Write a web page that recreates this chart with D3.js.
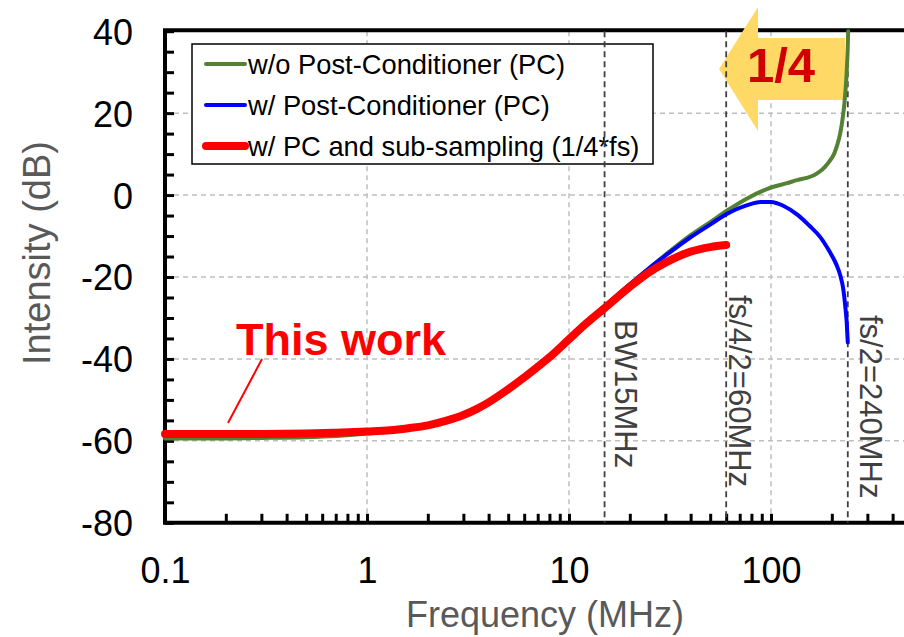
<!DOCTYPE html>
<html><head><meta charset="utf-8">
<script src="https://cdn.jsdelivr.net/npm/d3@7"></script>
<style>
html,body{margin:0;padding:0;background:#fff;}
svg{display:block;font-family:"Liberation Sans",Arial,sans-serif;}
</style></head>
<body>
<svg id="chart" width="904" height="637"></svg>
<script>
// ---- data ----
const freqGreen = [0.1,0.2,0.3,0.5,0.7,1,1.3,1.6,2,2.5,3,3.5,4,5,6,7,8,10,12,15,20,25,30,40,50,61,75,96,120,136,150,164,175,185,195,205,213,220,226,231,235,238,240,241];
const valGreen  = [-59.4,-59.4,-59.3,-59.1,-58.8,-58.2,-57.7,-57.1,-56.3,-55.0,-53.7,-52.2,-50.6,-47.4,-44.5,-41.9,-39.6,-35.2,-31.5,-27.2,-21.8,-17.8,-14.6,-9.8,-6.6,-3.7,-1.0,1.5,2.9,3.7,4.2,4.9,5.8,6.9,8.3,10.0,12.3,15.0,18.5,22.5,27.0,32.0,36.5,40.0];
const freqBlue  = [0.1,0.2,0.3,0.5,0.7,1,1.3,1.6,2,2.5,3,3.5,4,5,6,7,8,10,12,15,20,25,30,40,50,61,75,89,100,115,136,155,175,195,210,220,228,233,237,240];
const valBlue   = [-58.3,-58.3,-58.3,-58.2,-58.0,-57.7,-57.4,-56.9,-56.2,-55.0,-53.7,-52.2,-50.6,-47.4,-44.5,-41.9,-39.6,-35.2,-31.5,-27.2,-21.8,-17.8,-14.8,-10.3,-7.2,-4.5,-2.6,-1.7,-1.7,-2.6,-4.9,-7.5,-10.2,-13.8,-16.8,-19.5,-23.0,-27.0,-31.0,-36.0];
const freqRed   = [0.1,0.2,0.3,0.5,0.7,1,1.3,1.6,2,2.5,3,3.5,4,5,6,7,8,10,12,15,20,25,30,40,50,60];
const valRed    = [-58.3,-58.3,-58.3,-58.2,-58.0,-57.7,-57.4,-56.9,-56.2,-55.0,-53.7,-52.2,-50.6,-47.4,-44.5,-41.9,-39.6,-35.2,-31.6,-27.6,-22.4,-18.8,-16.5,-13.8,-12.7,-12.2];

const seriesNames = ["w/o Post-Conditioner (PC)","w/ Post-Conditioner (PC)","w/ PC and sub-sampling (1/4*fs)"];
const xTickValues = [0.1,1,10,100];
const xTickLabels = ["0.1","1","10","100"];
const yTickValues = [40,20,0,-20,-40,-60,-80];
const yTickLabels = ["40","20","0","-20","-40","-60","-80"];
const markerFreqs = [15,60,240];
const markerLabels = ["BW15MHz","fs/4/2=60MHz","fs/2=240MHz"];
const thisWorkLabel = "This work";
const arrowLabel = "1/4";

// ---- layout ----
const svg = d3.select("#chart");
const x = d3.scaleLog().domain([0.1,1000]).range([165,973]);
const y = d3.scaleLinear().domain([-80,40]).range([522.8,31.2]);
const pL = 165, pR = 904, pT = y(40), pB = y(-80);

const colors = ["#548235","#0000FF","#FF0000"];
const widths = [4,4,8];

// grid
const g = svg.append("g");
g.selectAll("line.gx").data([1,10,100]).join("line")
  .attr("x1",d=>x(d)).attr("x2",d=>x(d)).attr("y1",pT).attr("y2",pB)
  .attr("stroke","#BFBFBF").attr("stroke-width",1.5).attr("stroke-dasharray","5,4");
g.selectAll("line.gy").data([20,0,-20,-40,-60]).join("line")
  .attr("x1",pL).attr("x2",pR).attr("y1",d=>y(d)).attr("y2",d=>y(d))
  .attr("stroke","#BFBFBF").attr("stroke-width",1.5).attr("stroke-dasharray","5,4");

// legend box
const lg = svg.append("g");
lg.append("rect").attr("x",192).attr("y",44).attr("width",461).attr("height",120)
  .attr("fill","#fff").attr("stroke","#000").attr("stroke-width",1.5);
seriesNames.forEach((n,i)=>{
  const yy = 64 + i*41;
  lg.append("line").attr("x1",206).attr("x2",245).attr("y1",yy).attr("y2",yy)
    .attr("stroke",colors[i]).attr("stroke-width",widths[i]).attr("stroke-linecap","round");
  lg.append("text").attr("x",248).attr("y",yy+10).attr("font-size",27.3).attr("fill","#000").text(n);
});

// axes frame + ticks
const yMinor = d3.range(-80,41,5);
const yAx = svg.append("g").attr("transform",`translate(${pL},0)`)
  .call(d3.axisRight(y).tickValues(yMinor).tickSize(9).tickFormat(""));
const xMinor = [];
[0.1,1,10,100].forEach(dec=>{for(let k=1;k<10;k++){const v=dec*k; if(v>0.1) xMinor.push(v);}});
const xAx = svg.append("g").attr("transform",`translate(0,${pB})`)
  .call(d3.axisTop(x).tickValues(xMinor).tickSize(9).tickFormat(""));
[yAx,xAx].forEach(a=>{a.select(".domain").remove(); a.selectAll("line").attr("stroke","#000").attr("stroke-width",3);});
svg.append("line").attr("x1",pL).attr("x2",pR).attr("y1",pB).attr("y2",pB).attr("stroke","#000").attr("stroke-width",4);
svg.append("line").attr("x1",pL).attr("x2",pL).attr("y1",pT-2).attr("y2",pB+2).attr("stroke","#000").attr("stroke-width",4);
svg.append("line").attr("x1",pL-2).attr("x2",pR).attr("y1",pT-1).attr("y2",pT-1).attr("stroke","#000").attr("stroke-width",4);

// tick labels
const yl = svg.append("g").attr("transform",`translate(${pL},0)`)
  .call(d3.axisLeft(y).tickValues(yTickValues).tickSize(0).tickPadding(32).tickFormat((d,i)=>yTickLabels[i]));
yl.select(".domain").remove();
yl.selectAll("text").attr("font-size",36).attr("fill","#000").attr("font-family","Liberation Sans, Arial, sans-serif").attr("dy","0.36em");
const xl = svg.append("g").attr("transform",`translate(0,${pB})`)
  .call(d3.axisBottom(x).tickValues(xTickValues).tickSize(0).tickPadding(35).tickFormat((d,i)=>xTickLabels[i]));
xl.select(".domain").remove();
xl.selectAll("text").attr("font-size",36).attr("fill","#000").attr("font-family","Liberation Sans, Arial, sans-serif");

// axis titles
svg.append("text").attr("transform","translate(50,253) rotate(-90)").attr("text-anchor","middle")
  .attr("font-size",38).attr("fill","#595959").text("Intensity (dB)");
svg.append("text").attr("x",545).attr("y",627).attr("text-anchor","middle")
  .attr("font-size",36).attr("fill","#595959").text("Frequency (MHz)");

// arrow
const ap = d3.path();
ap.moveTo(719,69); ap.lineTo(758,7); ap.lineTo(758,38); ap.lineTo(845,38);
ap.lineTo(845,100); ap.lineTo(758,100); ap.lineTo(758,131); ap.closePath();
svg.append("path").attr("d",ap.toString()).attr("fill","#FFD966");
svg.append("text").attr("x",781).attr("y",82).attr("text-anchor","middle")
  .attr("font-size",49).attr("font-weight","bold").attr("fill","#D00000").text(arrowLabel);

// marker dashed lines
svg.selectAll("line.mk").data(markerFreqs).join("line")
  .attr("x1",d=>x(d)).attr("x2",d=>x(d)).attr("y1",pT).attr("y2",pB)
  .attr("stroke","#404040").attr("stroke-width",1.8).attr("stroke-dasharray","6,4");
const mkPos = [[615,320],[729,295],[860,315]];
markerLabels.forEach((t,i)=>{
  svg.append("text").attr("transform",`translate(${mkPos[i][0]},${mkPos[i][1]}) rotate(90)`)
    .attr("font-size",31).attr("fill","#404040").text(t);
});

// curves
const line = d3.line().x(d=>x(d[0])).y(d=>y(d[1])).curve(d3.curveMonotoneX);
const sets = [[freqGreen,valGreen],[freqBlue,valBlue],[freqRed,valRed]];
sets.forEach((s,i)=>{
  const pts = s[0].map((f,j)=>[f,s[1][j]]);
  svg.append("path").attr("d",line(pts)).attr("fill","none")
    .attr("stroke",colors[i]).attr("stroke-width",widths[i]).attr("stroke-linecap","round").attr("stroke-linejoin","round");
});

// "This work" annotation
svg.append("line").attr("x1",262).attr("y1",359).attr("x2",228).attr("y2",423)
  .attr("stroke","#FF0000").attr("stroke-width",2);
svg.append("text").attr("x",236).attr("y",355).attr("font-size",45).attr("font-weight","bold")
  .attr("fill","#FF0000").text(thisWorkLabel);
</script>
</body></html>
